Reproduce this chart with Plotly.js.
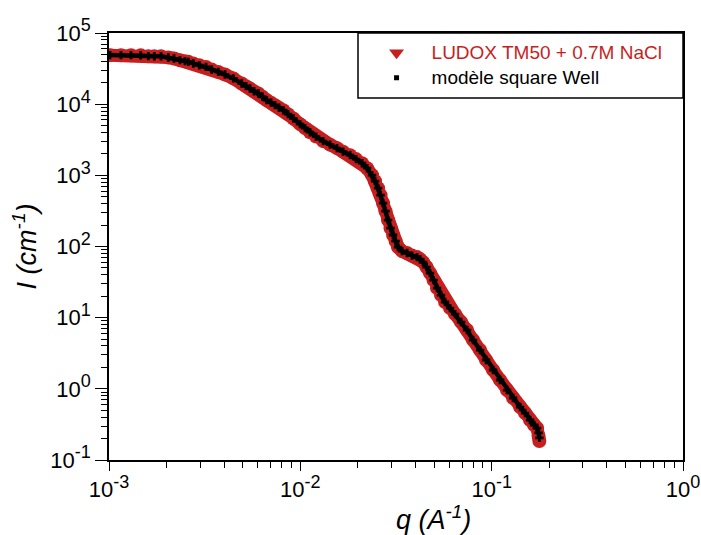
<!DOCTYPE html>
<html><head><meta charset="utf-8">
<script src="https://cdn.plot.ly/plotly-3.0.1.min.js"></script>
<style>html,body{margin:0;padding:0;background:#fff}#chart{width:701px;height:535px}</style>
</head><body><div id="chart"></div>
<script>
// Measured data (q in A^-1, I in cm^-1)
const qData = [0.001012,0.001155,0.001303,0.001465,0.001604,0.001725,0.001870,0.002042,0.002187,0.002350,
  0.002495,0.002598,0.002759,0.002965,0.003214,0.003442,0.003726,0.004040,0.004466,0.004940,
  0.005203,0.005458,0.005728,0.006033,0.006344,0.006674,0.007027,0.007375,0.007738,0.008149,
  0.008623,0.009192,0.009963,0.01058,0.01124,0.01208,0.01315,0.01430,0.01555,0.01672,
  0.01819,0.01955,0.02101,0.02232,0.02370,0.02457,0.02548,0.02625,0.02705,0.02787,
  0.02872,0.02961,0.03052,0.03146,0.03241,0.03401,0.03612,0.03836,0.04074,0.04223,
  0.04379,0.04567,0.04764,0.04969,0.05183,0.05437,0.05706,0.06061,0.06437,0.06920,
  0.07435,0.07992,0.08697,0.09347,0.1017,0.1106,0.1203,0.1294,0.1408,0.1495,
  0.1587,0.1666,0.1727,0.1759,0.1775];
const iData = [48800,48800,48800,48700,47200,47200,47100,45300,43900,41500,
  40200,39300,37300,35300,33400,30700,28400,26100,23000,19500,
  17900,16600,15200,14100,12700,11400,10500,9680,8930,8230,
  7240,6300,5240,4600,4040,3500,3020,2700,2410,2150,
  1920,1690,1480,1260,1006,829,661,527,407,314,
  235,181,145,119,98,86,81,74.5,71,66.5,
  60.4,51.4,42.3,33.7,26.0,20.8,16.6,13.6,11.2,8.68,
  6.70,4.85,3.51,2.54,1.84,1.33,0.962,0.743,0.555,0.457,
  0.365,0.310,0.281,0.217,0.185];
// Square-well model
const qModel = [0.001012,0.001155,0.001303,0.001465,0.001604,0.001725,0.001870,0.002042,0.002187,0.002350,
  0.002495,0.002598,0.002759,0.002965,0.003214,0.003442,0.003726,0.004040,0.004466,0.004940,
  0.005203,0.005458,0.005728,0.006033,0.006344,0.006674,0.007027,0.007375,0.007738,0.008149,
  0.008623,0.009192,0.009963,0.01058,0.01124,0.01208,0.01315,0.01430,0.01555,0.01672,
  0.01819,0.01955,0.02101,0.02232,0.02370,0.02457,0.02548,0.02625,0.02705,0.02787,
  0.02872,0.02961,0.03052,0.03146,0.03241,0.03401,0.03612,0.03836,0.04074,0.04223,
  0.04379,0.04567,0.04764,0.04969,0.05183,0.05437,0.05706,0.06061,0.06437,0.06920,
  0.07435,0.07992,0.08697,0.09347,0.1017,0.1106,0.1203,0.1294,0.1408,0.1495,
  0.1587,0.1666,0.1727,0.1759,0.1775];
const iModel = [48900,48900,48800,48700,47300,47200,47100,45300,43900,41600,
  40200,39300,37300,35300,33400,30700,28400,26100,23000,19500,
  17900,16600,15200,14100,12700,11400,10500,9680,8930,8230,
  7240,6300,5240,4600,4040,3500,3020,2700,2410,2150,
  1920,1690,1480,1260,1006,829,661,527,407,314,
  235,181,145,119,98,86,81,74.5,71,66.5,
  60.4,51.4,42.3,33.7,26.0,20.8,16.6,13.6,11.2,8.68,
  6.70,4.85,3.51,2.54,1.84,1.33,0.962,0.743,0.555,0.457,
  0.365,0.310,0.281,0.240,0.205];
const seriesNames = ['LUDOX TM50 + 0.7M NaCl', 'modèle square Well'];
const xTickVals = [0.001, 0.01, 0.1, 1];
const xTickExp = ['-3', '-2', '-1', '0'];
const yTickVals = [0.1, 1, 10, 100, 1000, 10000, 100000];
const yTickExp = ['-1', '0', '1', '2', '3', '4', '5'];

const RED = '#c81e1e';
const FONT = 'Arial';
function powLabel(e) { return '10<sup><span style="font-size:18px">' + e + '</span></sup>'; }
function legendLabel(name, color) { return '<span style="font-size:19px;color:' + color + '">' + name + '</span>'; }
function minorVals(lo, hi) {
  const v = [];
  for (let e = lo; e < hi; e++) for (let m = 2; m <= 9; m++) v.push(m * Math.pow(10, e));
  return v;
}

const traces = [
  { x: qData, y: iData, type: 'scatter', mode: 'lines+markers', showlegend: false,
    line: { color: RED, width: 13 },
    marker: { symbol: 'circle', size: 14, color: RED } },
  { x: qModel, y: iModel, type: 'scatter', mode: 'lines+markers', showlegend: false,
    line: { color: '#000', width: 4.5 },
    marker: { symbol: 'cross', size: 7, color: '#000' } },
  { x: [null], y: [null], type: 'scatter', mode: 'markers', name: legendLabel(seriesNames[0], RED),
    marker: { symbol: 'triangle-down', size: 13, color: RED } },
  { x: [null], y: [null], type: 'scatter', mode: 'markers', name: legendLabel(seriesNames[1], '#000'),
    marker: { symbol: 'square', size: 5, color: '#000' } }
];

const axisCommon = {
  type: 'log', showgrid: false, zeroline: false,
  showline: true, linecolor: '#000', linewidth: 1.5, mirror: true,
  ticks: 'outside', ticklen: 12, tickwidth: 1.3, tickcolor: '#000',
  tickmode: 'array',
  tickfont: { family: FONT, size: 22, color: '#000' }
};

const layout = {
  width: 701, height: 535,
  margin: { l: 109, r: 18, t: 33, b: 75 },
  paper_bgcolor: '#fff', plot_bgcolor: '#fff',
  font: { family: FONT, color: '#000' },
  xaxis: Object.assign({}, axisCommon, {
    range: [-3, 0],
    ticklen: 9,
    tickvals: xTickVals, ticktext: xTickExp.map(powLabel),
    minor: { tickmode: 'array', tickvals: minorVals(-3, 0), ticks: 'outside', ticklen: 6, tickwidth: 1.2, tickcolor: '#000', showgrid: false }
  }),
  yaxis: Object.assign({}, axisCommon, {
    range: [-1, 5],
    tickvals: yTickVals, ticktext: yTickExp.map(powLabel),
    minor: { tickmode: 'array', tickvals: minorVals(-1, 5), ticks: 'outside', ticklen: 6, tickwidth: 1.2, tickcolor: '#000', showgrid: false },
    title: { text: '<i>I (cm<sup>-1</sup>)</i>', font: { family: FONT, size: 27, color: '#000' }, standoff: 6 }
  }),
  legend: {
    x: 0.44, xanchor: 'left', y: 0.995, yanchor: 'top',
    bgcolor: 'rgba(0,0,0,0)', borderwidth: 0,
    itemwidth: 60,
    font: { family: FONT, size: 17, color: '#000' },
    tracegroupgap: 0
  },
  shapes: [
    { type: 'rect', xref: 'paper', yref: 'paper', x0: 0.4338, x1: 1, y0: 0.8478, y1: 1,
      line: { color: '#000', width: 1.5 }, fillcolor: 'rgba(0,0,0,0)' }
  ],
  annotations: [
    { text: '<i>q (A<sup>-1</sup>)</i>', xref: 'paper', yref: 'paper', x: 0.5645, y: -0.136,
      xanchor: 'center', yanchor: 'middle', showarrow: false,
      font: { family: FONT, size: 27, color: '#000' } }
  ]
};

Plotly.newPlot('chart', traces, layout, { displayModeBar: false });
</script>
</body></html>
